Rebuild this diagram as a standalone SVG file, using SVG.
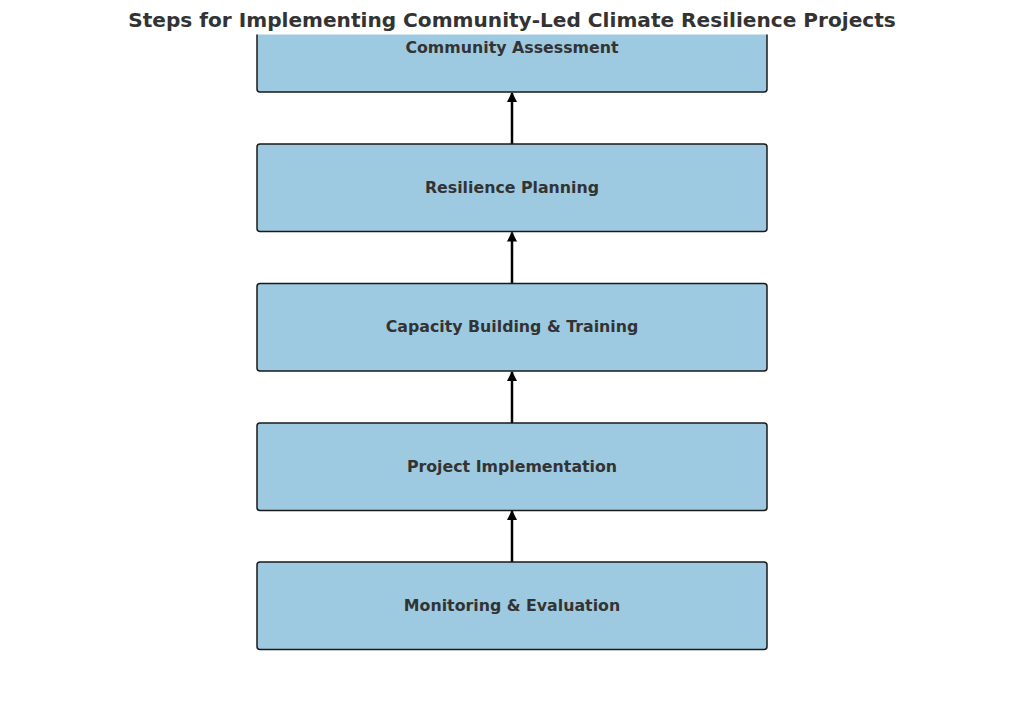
<svg xmlns="http://www.w3.org/2000/svg" width="1024" height="714" viewBox="0 0 1024 714">
<style>
.box{fill:#9ecae1;stroke:#1a1a1a;stroke-width:1.5}
.lbl{font-family:"DejaVu Sans",sans-serif;font-weight:bold;font-size:15.8px;fill:#333333;text-anchor:middle;dominant-baseline:central}
.title{font-family:"DejaVu Sans",sans-serif;font-weight:bold;font-size:20.1px;fill:#333333;text-anchor:middle}
.conn{stroke:#000;stroke-width:2.5;fill:none;marker-end:url(#ah)}
</style>
<defs>
<marker id="ah" viewBox="0 0 10 10" refX="9" refY="5" markerWidth="4" markerHeight="4.4" orient="auto" markerUnits="strokeWidth">
<path d="M0,0 L10,5 L0,10 z" fill="#000"/>
</marker>
<clipPath id="ax"><rect x="0" y="34.5" width="1024" height="680"/></clipPath>
</defs>
<rect width="1024" height="714" fill="#fff"/>
<text class="title" x="512" y="26.5">Steps for Implementing Community-Led Climate Resilience Projects</text>
<g clip-path="url(#ax)">
<g id="connectors">
<line class="conn" x1="512" y1="562" x2="512" y2="511"/>
<line class="conn" x1="512" y1="423" x2="512" y2="372"/>
<line class="conn" x1="512" y1="283.5" x2="512" y2="232.5"/>
<line class="conn" x1="512" y1="144" x2="512" y2="93"/>
</g>
<g id="n1"><rect class="box" x="257" y="4.5" width="510" height="87.5" rx="3"/><text class="lbl" x="512" y="47.5">Community Assessment</text></g>
<g id="n2"><rect class="box" x="257" y="144" width="510" height="87.5" rx="3"/><text class="lbl" x="512" y="187">Resilience Planning</text></g>
<g id="n3"><rect class="box" x="257" y="283.5" width="510" height="87.5" rx="3"/><text class="lbl" x="512" y="326.5">Capacity Building &amp; Training</text></g>
<g id="n4"><rect class="box" x="257" y="423" width="510" height="87.5" rx="3"/><text class="lbl" x="512" y="466">Project Implementation</text></g>
<g id="n5"><rect class="box" x="257" y="562" width="510" height="87.5" rx="3"/><text class="lbl" x="512" y="605">Monitoring &amp; Evaluation</text></g>
</g>
</svg>
